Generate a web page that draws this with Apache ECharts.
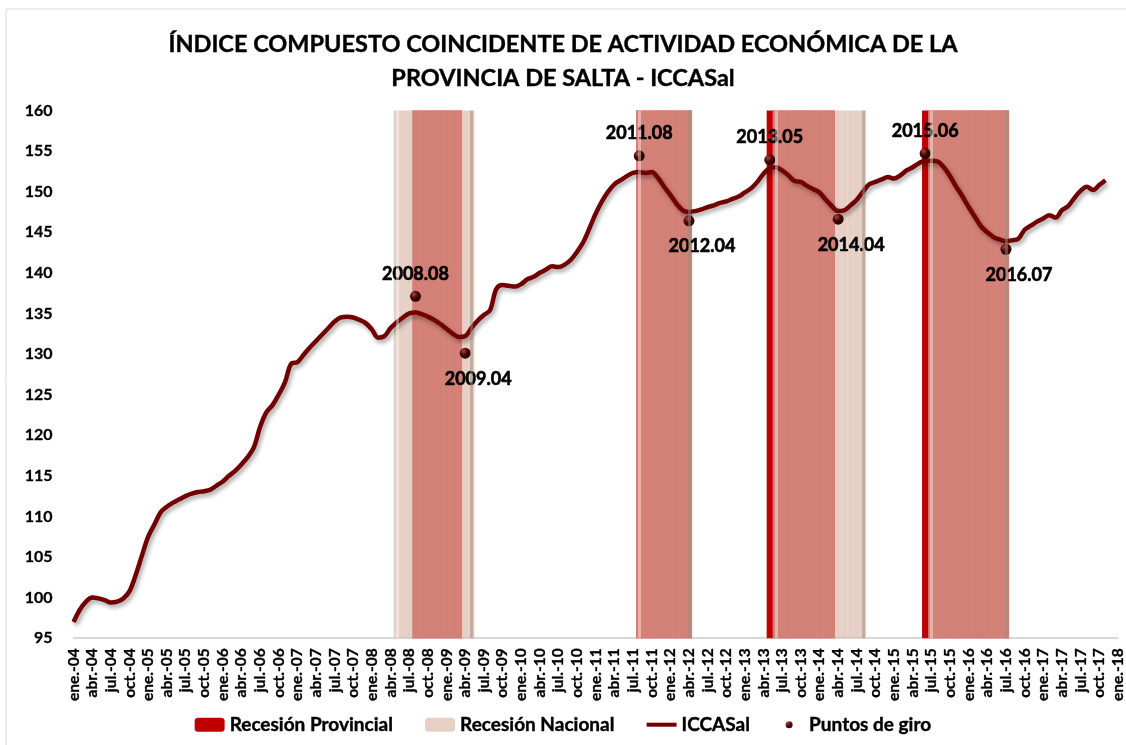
<!DOCTYPE html>
<html>
<head>
<meta charset="utf-8">
<script src="https://cdn.jsdelivr.net/npm/echarts@6/dist/echarts.min.js"></script>
<style>
html, body { margin: 0; padding: 0; background: #fff; }
#chart { width: 1126px; height: 745px; }
</style>
</head>
<body>
<div id="chart"></div>
<script>
// meses y rango del eje (ene.-04 ... ene.-18)
var monthNames = ['ene.', 'feb.', 'mar.', 'abr.', 'may.', 'jun.', 'jul.', 'ago.', 'sep.', 'oct.', 'nov.', 'dic.'];
var firstYear = 2004;
var lastYear = 2018;

// ICCASal mensual, ene.-04 a nov.-17
var iccasal = [
    97.0, 98.5, 99.5, 100.0, 99.9, 99.7, 99.4, 99.5, 99.9, 100.8, 102.8, 105.2,
    107.5, 109.0, 110.5, 111.2, 111.7, 112.1, 112.5, 112.8, 113.0, 113.1, 113.3, 113.8,
    114.3, 115.0, 115.6, 116.4, 117.3, 118.5, 121.0, 122.8, 123.7, 125.0, 126.5, 128.8,
    129.0, 129.9, 130.8, 131.6, 132.4, 133.2, 134.0, 134.5, 134.6, 134.5, 134.2, 133.8,
    133.0, 132.0, 132.2, 133.2, 133.9, 134.5, 135.0, 135.1, 134.9, 134.6, 134.2, 133.7,
    133.1, 132.5, 132.1, 132.2, 133.2, 134.1, 134.8, 135.4, 138.0, 138.5, 138.4, 138.3,
    138.6, 139.2, 139.5, 140.0, 140.4, 140.8, 140.7, 141.0, 141.6, 142.6, 143.8, 145.5,
    147.3, 148.8, 150.0, 150.9, 151.4, 151.9, 152.3, 152.4, 152.3, 152.4, 151.7, 150.6,
    149.6, 148.5, 147.7, 147.5, 147.6, 147.8, 148.1, 148.3, 148.6, 148.8, 149.1, 149.4,
    149.9, 150.4, 151.2, 152.2, 152.9, 153.0, 152.6, 152.0, 151.3, 151.2, 150.7, 150.3,
    149.9, 149.0, 148.2, 147.6, 147.7, 148.3, 149.0, 150.0, 150.9, 151.2, 151.5, 151.8,
    151.6, 152.0, 152.6, 153.0, 153.5, 153.8, 153.8, 153.7, 153.0, 151.9, 150.6, 149.4,
    148.1, 146.9, 145.7, 145.0, 144.4, 144.1, 143.9, 144.0, 144.2, 145.3, 145.8, 146.3,
    146.7, 147.1, 146.8, 147.7, 148.2, 149.2, 150.1, 150.6, 150.2, 150.8, 151.4
];

// puntos de giro (pico, valle, pico, valle...)
var turnLabels = ['2008.08', '2009.04', '2011.08', '2012.04', '2013.05', '2014.04', '2015.06', '2016.07'];
var turnValues = [137.1, 130.1, 154.4, 146.4, 153.9, 146.6, 154.7, 142.9];

// periodos de recesión [desde, hasta]
var recProvincial = [['2008.08', '2009.03'], ['2011.08', '2012.04'], ['2013.05', '2014.03'], ['2015.06', '2016.07']];
var recNacional = [['2008.05', '2009.05'], ['2011.08', '2012.04'], ['2013.06', '2014.08'], ['2015.07', '2016.07']];

var yMin = 95, yMax = 160, yStep = 5;

var FONT = 'Lato';

function monthIndex(s) {
    var p = s.split('.');
    return (parseInt(p[0], 10) - firstYear) * 12 + parseInt(p[1], 10) - 1;
}

var categories = [];
for (var y = firstYear; y < lastYear; y++) {
    for (var m = 0; m < 12; m++) {
        categories.push(monthNames[m] + '-' + String(y).slice(2));
    }
}
categories.push(monthNames[0] + '-' + String(lastYear).slice(2));

function bandData(periods) {
    return categories.map(function (c, i) {
        for (var k = 0; k < periods.length; k++) {
            if (i >= monthIndex(periods[k][0]) && i <= monthIndex(periods[k][1])) return yMax;
        }
        return '-';
    });
}

// bisel de las barras: brillo a la izquierda, sombra a la derecha
function bevelLines(periods) {
    var out = [];
    periods.forEach(function (p) {
        var a = monthIndex(p[0]), b = monthIndex(p[1]);
        out.push([{ xAxis: categories[a], yAxis: yMin, lineStyle: { type: 'solid', color: 'rgba(255,255,255,0.4)', width: 3 } },
                  { xAxis: categories[a], yAxis: yMax }]);
        out.push([{ xAxis: categories[b], yAxis: yMin, lineStyle: { type: 'solid', color: 'rgba(150,140,130,0.5)', width: 3 } },
                  { xAxis: categories[b], yAxis: yMax }]);
    });
    return out;
}

var turnData = turnLabels.map(function (lab, k) {
    var peak = k % 2 === 0;
    return {
        name: lab,
        value: [monthIndex(lab), turnValues[k]],
        label: {
            position: peak ? 'top' : 'bottom',
            distance: peak ? 8 : 11,
            offset: peak ? [0, 0] : [13, 0]
        }
    };
});

var chart = echarts.init(document.getElementById('chart'));
var option = {
    animation: false,
    backgroundColor: '#fff',
    title: {
        text: 'ÍNDICE COMPUESTO COINCIDENTE DE ACTIVIDAD ECONÓMICA DE LA\nPROVINCIA DE SALTA - ICCASal',
        left: 'center',
        top: 22,
        textStyle: {
            fontFamily: FONT,
            fontWeight: 'bold',
            fontSize: 23.5,
            lineHeight: 34,
            color: '#000',
            textBorderColor: '#000',
            textBorderWidth: 0.4
        }
    },
    graphic: [{
        type: 'rect',
        shape: { x: 6, y: 9, width: 1300, height: 900 },
        style: { fill: 'none', stroke: '#d9d9d9', lineWidth: 1 },
        silent: true
    }],
    legend: {
        top: 710,
        left: 'center',
        itemGap: 32,
        itemWidth: 30,
        itemHeight: 14,
        textStyle: {
            fontFamily: FONT, fontWeight: 'bold', fontSize: 19, color: '#000',
            textBorderColor: '#000', textBorderWidth: 0.4
        },
        data: [
            'Recesión Provincial',
            'Recesión Nacional',
            { name: 'ICCASal', icon: 'path://M0,0 L30,0 L30,4 L0,4 Z' },
            { name: 'Puntos de giro', icon: 'path://M0,0 M14,0 M7,3.5 A3.5,3.5 0 1 1 7,10.5 A3.5,3.5 0 1 1 7,3.5 Z M0,14' }
        ]
    },
    grid: { left: 73.6, right: 7.4, top: 110.4, bottom: 106.8 },
    xAxis: {
        type: 'category',
        boundaryGap: false,
        data: categories,
        axisLine: { lineStyle: { color: '#d9d9d9', width: 2 } },
        axisTick: { show: false },
        axisLabel: {
            interval: 2,
            rotate: 90,
            margin: 10,
            fontFamily: FONT,
            fontWeight: 'bold',
            fontSize: 15.5,
            color: '#000',
            textBorderColor: '#000',
            textBorderWidth: 0.3
        },
        splitLine: { show: false }
    },
    yAxis: {
        type: 'value',
        min: yMin,
        max: yMax,
        interval: yStep,
        axisLine: { show: false },
        axisTick: { show: false },
        splitLine: { show: false },
        axisLabel: {
            margin: 21,
            fontFamily: FONT,
            fontWeight: 'bold',
            fontSize: 16,
            color: '#000',
            textBorderColor: '#000',
            textBorderWidth: 0.3
        }
    },
    series: [
        {
            name: 'Recesión Provincial',
            type: 'bar',
            barCategoryGap: '0%',
            silent: true,
            itemStyle: { color: '#c00000' },
            data: bandData(recProvincial)
        },
        {
            name: 'Recesión Nacional',
            type: 'bar',
            barGap: '-100%',
            barCategoryGap: '0%',
            silent: true,
            itemStyle: { color: 'rgba(219,187,172,0.69)' },
            markLine: {
                silent: true,
                symbol: 'none',
                label: { show: false },
                data: bevelLines(recNacional)
            },
            data: bandData(recNacional)
        },
        {
            name: 'ICCASal',
            type: 'line',
            smooth: 0.35,
            symbol: 'none',
            z: 3,
            lineStyle: {
                color: '#720000',
                width: 4.5,
                shadowColor: 'rgba(0,0,0,0.35)',
                shadowBlur: 4,
                shadowOffsetX: 2,
                shadowOffsetY: 3
            },
            itemStyle: { color: '#720000' },
            data: iccasal
        },
        {
            name: 'Puntos de giro',
            type: 'scatter',
            symbolSize: 11,
            z: 4,
            itemStyle: {
                opacity: 1,
                color: new echarts.graphic.RadialGradient(0.35, 0.3, 0.7, [
                    { offset: 0, color: '#a84545' },
                    { offset: 0.5, color: '#4a0505' },
                    { offset: 1, color: '#220000' }
                ])
            },
            label: {
                show: true,
                opacity: 1,
                formatter: '{b}',
                fontFamily: FONT,
                fontWeight: 'bold',
                fontSize: 18,
                color: '#000',
                textBorderColor: '#000',
                textBorderWidth: 0.6
            },
            data: turnData
        }
    ]
};
chart.setOption(option);
</script>
</body>
</html>
